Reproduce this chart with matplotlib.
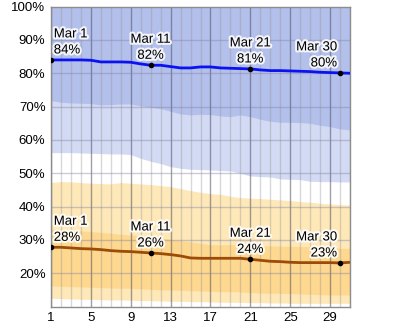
import matplotlib
matplotlib.use("Agg")
import matplotlib.pyplot as plt
import matplotlib.patheffects as pe
import numpy as np

plt.rcParams['font.family'] = ['Liberation Sans', 'DejaVu Sans']

# day of month
days = list(range(1, 32))

# daily high relative humidity (%)
high_p10 = [56.2, 56.2, 56.2, 56.1, 56.0, 55.9, 55.8, 55.8, 55.6, 54.5, 53.6, 52.9, 52.0, 51.5, 51.2, 51.1,
            51.0, 50.8, 50.7, 50.0, 49.2, 49.0, 48.9, 48.3, 48.2, 48.1, 47.6, 47.5, 47.5, 47.4, 47.4]
high_p25 = [71.8, 71.3, 71.1, 71.0, 70.9, 70.5, 70.6, 70.8, 70.8, 70.2, 69.8, 69.4, 68.6, 67.8, 67.5, 67.7,
            67.6, 67.2, 67.0, 67.5, 67.0, 66.2, 65.6, 65.3, 65.3, 65.2, 65.0, 64.4, 64.0, 63.3, 63.0]
high_top = [100.0] * 31
high_mid = [84.0, 84.0, 84.0, 84.0, 83.9, 83.4, 83.4, 83.4, 83.3, 82.8, 82.4, 82.4, 82.0, 81.6, 81.6, 81.9,
            81.9, 81.6, 81.5, 81.4, 81.3, 81.0, 80.8, 80.8, 80.7, 80.6, 80.5, 80.3, 80.2, 80.1, 80.0]

# daily low relative humidity (%)
low_p10 = [12.5, 12.4, 12.3, 12.2, 12.2, 12.1, 12.0, 12.0, 11.9, 11.8, 11.8, 11.7, 11.6, 11.6, 11.5, 11.5,
           11.4, 11.3, 11.3, 11.3, 11.2, 11.2, 11.1, 11.1, 11.0, 11.0, 11.0, 11.0, 11.0, 11.0, 11.0]
low_p25 = [16.2, 16.1, 16.0, 15.9, 15.8, 15.7, 15.6, 15.5, 15.5, 15.3, 15.2, 15.0, 15.0, 14.9, 14.8, 14.7,
           14.6, 14.5, 14.5, 14.4, 14.2, 14.1, 14.0, 14.0, 13.9, 13.8, 13.7, 13.6, 13.5, 13.5, 13.5]
low_p75 = [33.2, 33.1, 32.9, 32.7, 32.5, 32.3, 32.0, 31.7, 31.5, 31.3, 31.0, 30.6, 30.2, 29.8, 29.4, 29.0,
           28.6, 28.5, 28.6, 28.8, 28.6, 28.3, 28.2, 28.1, 28.1, 28.0, 28.0, 27.9, 27.7, 27.5, 27.5]
low_p90 = [47.2, 47.5, 47.4, 47.2, 47.0, 46.9, 46.8, 47.2, 47.0, 46.8, 46.6, 46.3, 46.0, 45.4, 44.8, 44.3,
           43.9, 43.7, 43.1, 42.7, 42.5, 42.4, 42.2, 42.0, 41.8, 41.5, 41.3, 41.0, 40.8, 40.6, 40.5]
low_mid = [27.8, 27.8, 27.6, 27.4, 27.3, 27.1, 26.8, 26.6, 26.5, 26.3, 26.1, 25.9, 25.6, 25.2, 24.6, 24.5,
           24.5, 24.5, 24.5, 24.5, 24.2, 23.9, 23.6, 23.5, 23.3, 23.2, 23.2, 23.2, 23.2, 23.1, 23.3]

label_days = [1, 11, 21, 30]
label_names = ["Mar 1", "Mar 11", "Mar 21", "Mar 30"]
high_labels = ["84%", "82%", "81%", "80%"]
low_labels = ["28%", "26%", "24%", "23%"]

fig = plt.figure(figsize=(4.0, 3.29), dpi=100)
ax = fig.add_axes([0.1275, 0.068, 0.7475, 0.912])

ax.fill_between(days, high_p10, high_top, color="#d3daf4", lw=0, zorder=1)
ax.fill_between(days, high_p25, high_top, color="#b4c0ec", lw=0, zorder=1)
ax.fill_between(days, low_p10, low_p90, color="#fee8b8", lw=0, zorder=1)
ax.fill_between(days, low_p25, low_p75, color="#fed88e", lw=0, zorder=1)

# grid
for d in days:
    if (d - 1) % 4 == 0:
        ax.axvline(d, color="#505060", lw=1.0, alpha=0.55, zorder=2)
    else:
        ax.axvline(d, color="#909090", lw=1.0, alpha=0.35, zorder=2)
for h in range(20, 100, 10):
    ax.axhline(h, color="#8080a0", lw=1.0, alpha=0.4, zorder=2)

ax.plot(days, high_mid, color="#0a12f2", lw=2, zorder=3, solid_capstyle="butt")
ax.plot(days, low_mid, color="#9c4c06", lw=2, zorder=3, solid_capstyle="butt")

idx = [days.index(d) for d in label_days]
ax.plot(label_days, [high_mid[i] for i in idx], "o", color="black", ms=3, zorder=4)
ax.plot(label_days, [low_mid[i] for i in idx], "o", color="black", ms=3, zorder=4)

halo = [pe.withStroke(linewidth=3, foreground="white", alpha=0.85)]
for k, i in enumerate(idx):
    if k == 0:
        ha, dx = "left", 2
    elif k == len(idx) - 1:
        ha, dx = "right", -2
    else:
        ha, dx = "center", 0
    for vals, labs in ((high_mid, high_labels), (low_mid, low_labels)):
        ax.annotate(label_names[k] + "\n" + labs[k], (label_days[k], vals[i]),
                    xytext=(dx, 2.5), textcoords="offset points", ha=ha, va="bottom",
                    multialignment=ha if ha != "center" else "center",
                    fontsize=9.5, linespacing=1.45, color="black", path_effects=halo, zorder=5)

ax.set_xlim(1, 31)
ax.set_ylim(10, 100)
ax.set_xticks(range(1, 31, 4))
ax.set_yticks(range(20, 101, 10))
ax.set_yticklabels([f"{v}%" for v in range(20, 101, 10)])
ax.tick_params(length=0, labelsize=9.5, pad=4)
for s in ax.spines.values():
    s.set_color("#8c8c8c")
    s.set_linewidth(1)

fig.savefig("out.png", dpi=100)
